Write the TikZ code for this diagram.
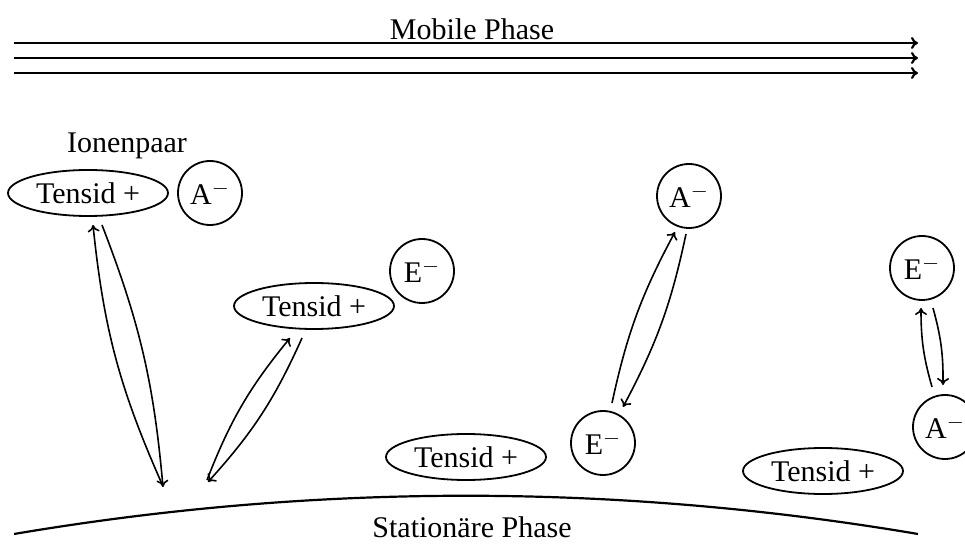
\documentclass[tikz,border=0pt]{standalone}
\usepackage{fontspec}
\setmainfont{Liberation Serif}
\usetikzlibrary{shapes.geometric,arrows.meta}
\begin{document}
\begin{tikzpicture}[x=0.5pt,y=-0.5pt,
  font=\fontsize{15}{18}\selectfont,
  ion/.style={circle,draw,line width=0.9pt,minimum size=32pt,inner sep=0pt},
  tensid/.style={ellipse,draw,line width=0.9pt,minimum width=80pt,minimum height=23pt,inner sep=0pt},
  flow/.style={line width=1.1pt,-{To[length=3.5pt,width=6pt]}},
  exch/.style={line width=0.8pt,-{To[length=3.5pt,width=6pt]}},
  phase/.style={line width=1.1pt}
  ]
\useasboundingbox (0,0) rectangle (965,545);
% mobile phase
\node (mob) at (472,29) {Mobile Phase};
\coordinate (m1s) at (14,43);  \coordinate (m1e) at (918,43);
\coordinate (m2s) at (14,58);  \coordinate (m2e) at (918,58);
\coordinate (m3s) at (14,73);  \coordinate (m3e) at (918,73);
\draw[flow] (m1s) -- (m1e);
\draw[flow] (m2s) -- (m2e);
\draw[flow] (m3s) -- (m3e);
% species
\node (ip) at (127,146) {Ionenpaar};
\node[tensid] (t1) at (88,193) {Tensid +};
\node[ion] (a1) at (210,193) {A$^{-}$};
\node[tensid] (t2) at (314,306) {Tensid +};
\node[ion] (e1) at (422,271) {E$^{-}$};
\node[ion] (a2) at (689,196) {A$^{-}$};
\node[tensid] (t3) at (466,457) {Tensid +};
\node[ion] (e2) at (603,443) {E$^{-}$};
\node[ion] (e3) at (922,268) {E$^{-}$};
\node[ion] (a3) at (945,427) {A$^{-}$};
\node[tensid] (t4) at (823,471) {Tensid +};
% stationary phase
\coordinate (sl) at (14,534);
\coordinate (sr) at (918,534);
\draw[phase] (sl) .. controls (315,483) and (617,483) .. (sr);
\node (sp) at (472,527) {Stationäre Phase};
% exchange arrows
\coordinate (l1b) at (162,484); \coordinate (l1t) at (93,225);
\coordinate (l2t) at (102,225); \coordinate (l2b) at (163,487);
\draw[exch] (l1b) to[bend left=9] (l1t);
\draw[exch] (l2t) to[bend left=8] (l2b);
\coordinate (c1b) at (207,480); \coordinate (c1t) at (290,338);
\coordinate (c2t) at (302,338); \coordinate (c2b) at (208,482);
\draw[exch] (c1b) to[bend left=9] (c1t);
\draw[exch] (c2t) to[bend left=9] (c2b);
\coordinate (r1b) at (612,403); \coordinate (r1t) at (675,232);
\coordinate (r2t) at (686,234); \coordinate (r2b) at (623,407);
\draw[exch] (r1b) to[bend left=8] (r1t);
\draw[exch] (r2t) to[bend left=8] (r2b);
\coordinate (f1b) at (932,387); \coordinate (f1t) at (921,308);
\coordinate (f2t) at (933,308); \coordinate (f2b) at (943,385);
\draw[exch] (f1b) to[bend left=8] (f1t);
\draw[exch] (f2t) to[bend left=8] (f2b);
\end{tikzpicture}
\end{document}
